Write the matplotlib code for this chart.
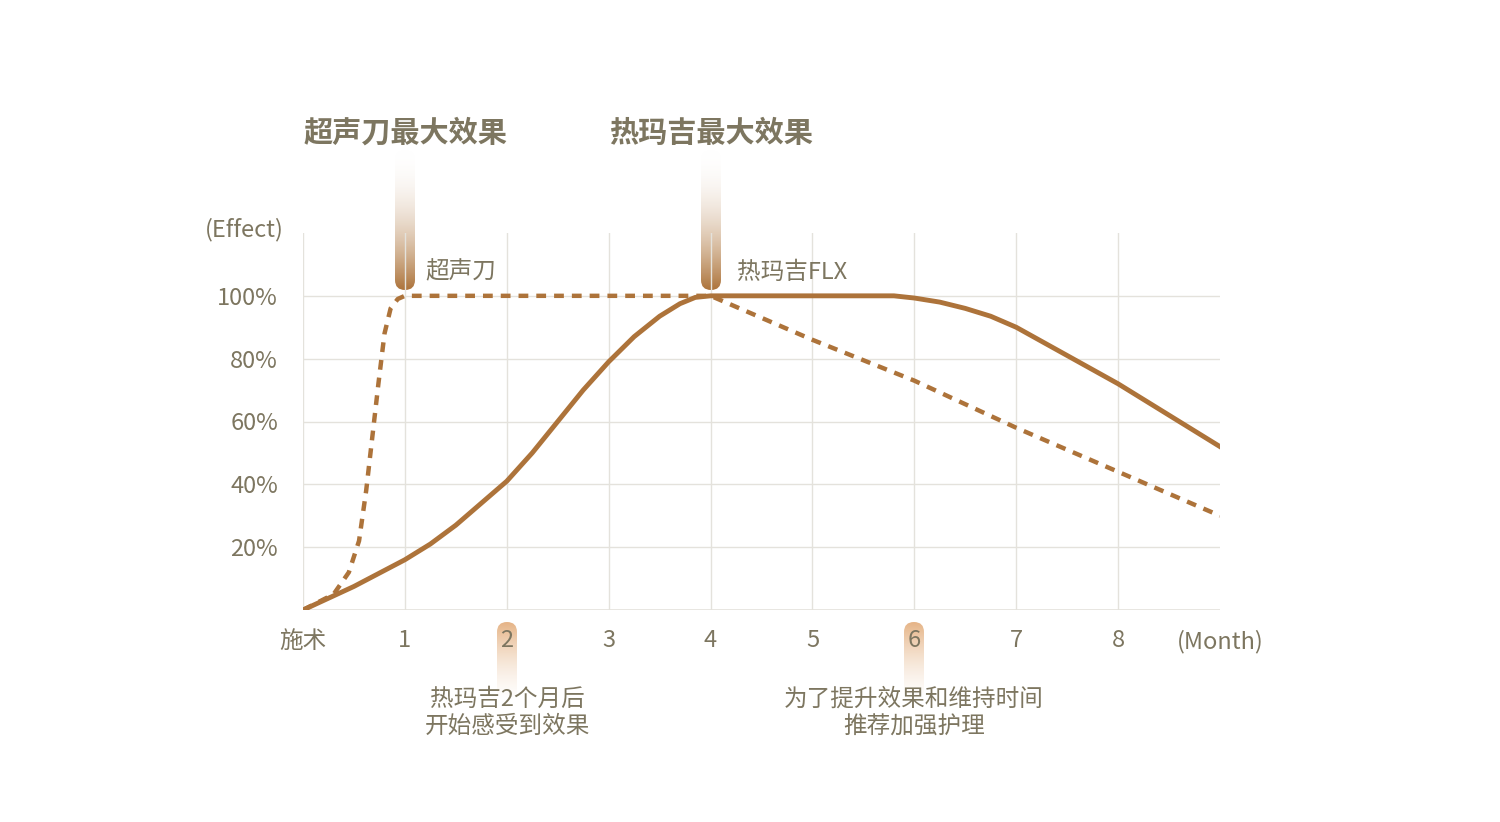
import numpy as np
import matplotlib
matplotlib.use("Agg")
import matplotlib.pyplot as plt
from matplotlib.patches import FancyBboxPatch
from matplotlib.colors import LinearSegmentedColormap

plt.rcParams['font.family'] = ['Noto Sans CJK SC', 'DejaVu Sans']

months = [0, 1, 2, 3, 4, 5, 6, 7, 8, 9]
xtick_labels = ['施术', '1', '2', '3', '4', '5', '6', '7', '8', '(Month)']
ytick_vals = [20, 40, 60, 80, 100]
ytick_labels = ['20%', '40%', '60%', '80%', '100%']

flx_x = [0, 0.5, 1, 1.25, 1.5, 1.75, 2, 2.25, 2.5, 2.75, 3, 3.25, 3.5, 3.7, 3.85, 4,
         4.5, 5, 5.5, 5.8, 6, 6.25, 6.5, 6.75, 7, 7.5, 8, 8.5, 9]
flx_y = [0, 7.5, 16, 21, 27, 34, 41, 50, 60, 70, 79, 87, 93.5, 97.5, 99.5, 100,
         100, 100, 100, 100, 99.3, 98, 96, 93.5, 90, 81, 72, 62, 52]
hifu_x = [0, 0.3, 0.45, 0.55, 0.62, 0.68, 0.74, 0.8, 0.86, 0.93, 1, 1.5, 2, 3, 4, 5, 6, 7, 8, 9]
hifu_y = [0, 5, 12, 22, 38, 55, 72, 88, 96, 99, 100, 100, 100, 100, 100, 86, 73, 58, 44, 30]

C = '#ad733a'
TXT = '#7d7660'

fig = plt.figure(figsize=(15, 8.22), dpi=100)
W, H = 1500, 822
ax = fig.add_axes([303/W, 1-610/H, (1220-303)/W, (610-233)/H])
ax.patch.set_alpha(0)
ax.set_xlim(0, 9)
ax.set_ylim(0, 120)
for x in months[:-1]:
    ax.axvline(x, color='#e4e2dc', lw=1, zorder=0)
for y in ytick_vals:
    ax.axhline(y, color='#e4e2dc', lw=1, zorder=0)
ax.axhline(0, color='#e4e2dc', lw=1.2, zorder=0)
for s in ax.spines.values():
    s.set_visible(False)
ax.tick_params(length=0, labelsize=17, colors=TXT, pad=14)
ax.set_xticks(months)
ax.set_xticklabels(xtick_labels)
ax.set_yticks(ytick_vals)
ax.set_yticklabels(ytick_labels)
ax.tick_params(axis='y', pad=18)

ax.plot(hifu_x, hifu_y, color=C, lw=3.2, ls=(0, (2.2, 1.8)), zorder=3)
ax.plot(flx_x, flx_y, color=C, lw=3.5, zorder=4)

ov = fig.add_axes([0, 0, 1, 1], zorder=-1)
ov.set_xlim(0, W); ov.set_ylim(H, 0); ov.axis('off')

def drop(cx, y0, y1, c0, c1, a0, a1, w=20):
    grad = np.linspace(0, 1, 256).reshape(-1, 1)
    cmap = LinearSegmentedColormap.from_list('g', [c0, c1])
    rgba = cmap(grad)
    rgba[:, 0, 3] = np.linspace(a0, a1, 256)
    im = ov.imshow(rgba, extent=[cx-w/2, cx+w/2, y1, y0], aspect='auto', zorder=1)
    p = FancyBboxPatch((cx-w/2, y0), w, y1-y0, boxstyle='round,pad=0,rounding_size=10',
                       transform=ov.transData, fc='none', ec='none')
    ov.add_patch(p)
    im.set_clip_path(p)

drop(405, 150, 290, '#ffffff', C, 0.0, 1.0)
drop(711, 150, 290, '#ffffff', C, 0.0, 1.0)
drop(507, 622, 700, '#e6b486', '#f4e2d0', 1.0, 0.0)
drop(914, 622, 700, '#e6b486', '#f4e2d0', 1.0, 0.0)

fig.text(405/W, 1-133/H, '超声刀最大效果', ha='center', va='center', fontsize=21, fontweight='bold', color=TXT)
fig.text(711/W, 1-133/H, '热玛吉最大效果', ha='center', va='center', fontsize=21, fontweight='bold', color=TXT)
fig.text(425/W, 1-272/H, '超声刀', ha='left', va='center', fontsize=17, color=TXT)
fig.text(737/W, 1-272/H, '热玛吉FLX', ha='left', va='center', fontsize=17, color=TXT)
fig.text(284/W, 1-230/H, '(Effect)', ha='right', va='center', fontsize=17, color=TXT)
fig.text(507/W, 1-713/H, '热玛吉2个月后\n开始感受到效果', ha='center', va='center', fontsize=17, color=TXT, linespacing=1.25)
fig.text(914/W, 1-713/H, '为了提升效果和维持时间\n推荐加强护理', ha='center', va='center', fontsize=17, color=TXT, linespacing=1.25)

fig.savefig('out.png', dpi=100)
